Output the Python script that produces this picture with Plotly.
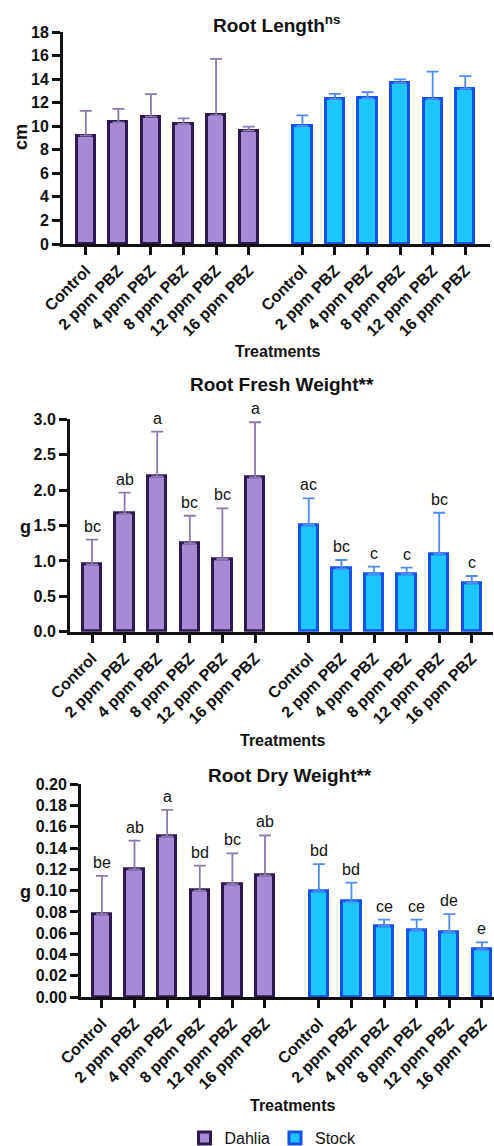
import plotly.graph_objects as go

W, H = 494, 1146

treatments = ["Control", "2 ppm PBZ", "4 ppm PBZ", "8 ppm PBZ", "12 ppm PBZ", "16 ppm PBZ"]
dahlia_pos = [0, 1, 2, 3, 4, 5]
stock_pos = [6.65, 7.65, 8.65, 9.65, 10.65, 11.65]

# Root length (cm): means and upper error-bar tops
len_dahlia = [9.20, 10.33, 10.81, 10.19, 10.92, 9.62]
len_dahlia_top = [11.31, 11.48, 12.73, 10.67, 15.72, 9.96]
len_stock = [10.02, 12.30, 12.39, 13.69, 12.30, 13.18]
len_stock_top = [10.92, 12.75, 12.90, 13.97, 14.64, 14.25]

# Root fresh weight (g)
fw_dahlia = [0.95, 1.667, 2.195, 1.249, 1.027, 2.18]
fw_dahlia_top = [1.30, 1.963, 2.825, 1.638, 1.743, 2.958]
fw_stock = [1.507, 0.89, 0.815, 0.815, 1.10, 0.688]
fw_stock_top = [1.884, 1.013, 0.918, 0.904, 1.68, 0.787]
fw_dahlia_letters = ["bc", "ab", "a", "bc", "bc", "a"]
fw_stock_letters = ["ac", "bc", "c", "c", "bc", "c"]

# Root dry weight (g)
dw_dahlia = [0.078, 0.120, 0.151, 0.100, 0.106, 0.1144]
dw_dahlia_top = [0.1138, 0.147, 0.176, 0.1235, 0.135, 0.152]
dw_stock = [0.0997, 0.0896, 0.0668, 0.063, 0.061, 0.0448]
dw_stock_top = [0.125, 0.1075, 0.0727, 0.0727, 0.078, 0.0514]
dw_dahlia_letters = ["be", "ab", "a", "bd", "bc", "ab"]
dw_stock_letters = ["bd", "bd", "ce", "ce", "de", "e"]

D_FILL, D_LINE, D_ERR = "#a68ad3", "#2c1a50", "#8c79ae"
S_FILL, S_LINE, S_ERR = "#1ec6ff", "#1652e8", "#4f8af0"
FONT = "Liberation Sans, Arial, sans-serif"
INK = "#111111"


def px_x(p):
    return p / W


def px_y(p):
    return 1 - p / H


panels = [
    dict(x0=63, x1=490, y0=32, y1=244, rng=[0, 18], dtick=2, fmt="d",
         xr=[-0.70, 12.41], d=len_dahlia, dt=len_dahlia_top, s=len_stock, st=len_stock_top,
         dl=None, sl=None, title="Root Length<sup>ns</sup>", ty=24, tx=276,
         trt=(277, 352), ytitle="cm", yt=(21, 137), yangle=-90),
    dict(x0=70, x1=493, y0=419.3, y1=631.7, rng=[0, 3.0], dtick=0.5, fmt=".1f",
         xr=[-0.675, 12.3], d=fw_dahlia, dt=fw_dahlia_top, s=fw_stock, st=fw_stock_top,
         dl=fw_dahlia_letters, sl=fw_stock_letters, title="Root Fresh Weight**", ty=384, tx=282,
         trt=(282, 740), ytitle="g", yt=(25, 527), yangle=0),
    dict(x0=81, x1=494, y0=784.3, y1=997, rng=[0, 0.20], dtick=0.02, fmt=".2f",
         xr=[-0.64, 12.02], d=dw_dahlia, dt=dw_dahlia_top, s=dw_stock, st=dw_stock_top,
         dl=dw_dahlia_letters, sl=dw_stock_letters, title="Root Dry Weight**", ty=775, tx=290,
         trt=(292, 1105), ytitle="g", yt=(25, 892), yangle=0),
]

fig = go.Figure()
annotations = []
layout = {}

for i, p in enumerate(panels, start=1):
    xa = "x" if i == 1 else f"x{i}"
    ya = "y" if i == 1 else f"y{i}"
    d_err = [t - v for t, v in zip(p["dt"], p["d"])]
    s_err = [t - v for t, v in zip(p["st"], p["s"])]
    fig.add_trace(go.Bar(
        x=dahlia_pos, y=p["d"], width=0.56, name="Dahlia", legendgroup="d",
        showlegend=(i == 1), xaxis=xa, yaxis=ya,
        marker=dict(color=D_FILL, line=dict(color=D_LINE, width=3)),
        error_y=dict(type="data", symmetric=False, array=d_err, arrayminus=[0] * 6,
                     color=D_ERR, thickness=1.8, width=6),
    ))
    fig.add_trace(go.Bar(
        x=stock_pos, y=p["s"], width=0.56, name="Stock", legendgroup="s",
        showlegend=(i == 1), xaxis=xa, yaxis=ya,
        marker=dict(color=S_FILL, line=dict(color=S_LINE, width=3)),
        error_y=dict(type="data", symmetric=False, array=s_err, arrayminus=[0] * 6,
                     color=S_ERR, thickness=1.8, width=6),
    ))
    key_x = "xaxis" if i == 1 else f"xaxis{i}"
    key_y = "yaxis" if i == 1 else f"yaxis{i}"
    layout[key_x] = dict(
        domain=[px_x(p["x0"]), px_x(p["x1"])], anchor=ya, range=p["xr"],
        tickvals=dahlia_pos + stock_pos, ticktext=treatments + treatments,
        tickangle=-45, showline=True, linecolor=INK, linewidth=3,
        ticks="outside", ticklen=8, tickwidth=3, tickcolor=INK,
        showgrid=False, zeroline=False, automargin=False,
        tickfont=dict(family=FONT, size=16, color=INK, weight="bold"),
    )
    layout[key_y] = dict(
        domain=[px_y(p["y1"]), px_y(p["y0"])], anchor=xa, range=p["rng"],
        dtick=p["dtick"], tick0=0, tickformat=p["fmt"],
        showline=True, linecolor=INK, linewidth=3,
        ticks="outside", ticklen=8, tickwidth=3, tickcolor=INK,
        showgrid=False, zeroline=False, automargin=False,
        tickfont=dict(family=FONT, size=16, color=INK, weight="bold"),
    )
    annotations.append(dict(
        text=p["title"], x=px_x(p["tx"]), y=px_y(p["ty"]), xref="paper", yref="paper",
        xanchor="center", yanchor="middle", showarrow=False,
        font=dict(family=FONT, size=19, color=INK, weight="bold"),
    ))
    annotations.append(dict(
        text="Treatments", x=px_x(p["trt"][0]), y=px_y(p["trt"][1]), xref="paper", yref="paper",
        xanchor="center", yanchor="middle", showarrow=False,
        font=dict(family=FONT, size=16, color=INK, weight="bold"),
    ))
    annotations.append(dict(
        text=p["ytitle"], x=px_x(p["yt"][0]), y=px_y(p["yt"][1]), xref="paper", yref="paper",
        xanchor="center", yanchor="middle", showarrow=False, textangle=p["yangle"],
        font=dict(family=FONT, size=18, color=INK, weight="bold"),
    ))
    if p["dl"]:
        for pos, top, lab in zip(dahlia_pos + stock_pos, p["dt"] + p["st"], p["dl"] + p["sl"]):
            annotations.append(dict(
                text=lab, x=pos, y=top, xref=xa, yref=ya, xanchor="center", yanchor="bottom",
                showarrow=False, yshift=3, font=dict(family=FONT, size=16, color=INK),
            ))

fig.update_layout(
    width=W, height=H, margin=dict(l=0, r=0, t=0, b=0, autoexpand=False),
    paper_bgcolor="white", plot_bgcolor="white",
    bargap=0, barmode="overlay",
    annotations=annotations,
    legend=dict(orientation="h", x=px_x(273), y=px_y(1138), xanchor="center", yanchor="middle",
                font=dict(family=FONT, size=16, color=INK), itemwidth=30,
                bgcolor="rgba(0,0,0,0)"),
    **layout,
)

fig.write_html("out.html", config={"displayModeBar": False},
               post_script="document.body.style.margin='0';document.body.style.overflow='hidden';")
